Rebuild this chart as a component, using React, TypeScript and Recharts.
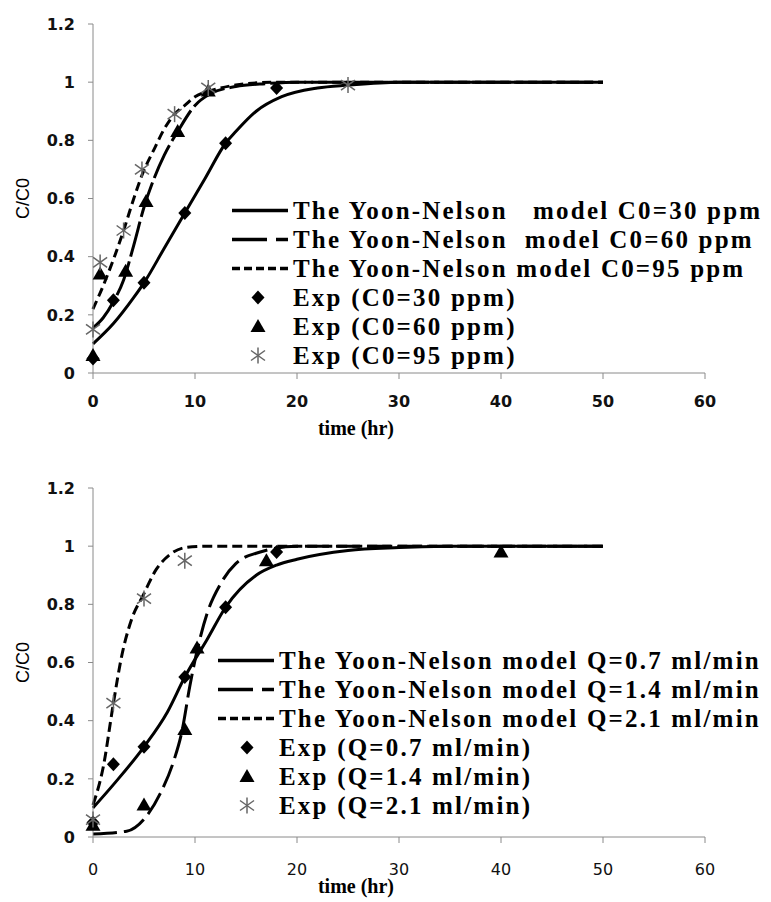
import React from 'react';
import { ComposedChart, Line, Scatter, XAxis, YAxis, Legend, Label } from 'recharts';

// ---------- axis ticks ----------
const X_TICKS = [0, 10, 20, 30, 40, 50, 60];
const Y_TICKS = [0, 0.2, 0.4, 0.6, 0.8, 1, 1.2];

// ---------- top panel: initial concentration ----------
const TOP_MODEL_30: [number, number][] = [[0, 0.10], [2, 0.17], [4, 0.26], [5, 0.31], [7, 0.43], [9, 0.55], [11, 0.67], [13, 0.79], [14, 0.83], [16, 0.90], [18.5, 0.95], [22, 0.98], [25, 0.99], [30, 1], [40, 1], [50, 1]];
const TOP_MODEL_60: [number, number][] = [[0, 0.155], [1, 0.19], [2, 0.245], [3, 0.32], [4, 0.44], [5, 0.57], [6, 0.67], [7, 0.75], [8.3, 0.83], [10, 0.92], [11.5, 0.96], [14, 0.985], [17, 0.995], [20, 1], [30, 1], [50, 1]];
const TOP_MODEL_95: [number, number][] = [[0, 0.22], [1, 0.30], [2, 0.39], [3, 0.49], [4, 0.60], [4.8, 0.68], [6, 0.77], [7, 0.84], [8, 0.89], [9, 0.92], [10, 0.95], [11.5, 0.97], [14, 0.99], [18, 1], [30, 1], [50, 1]];
const TOP_EXP_30: [number, number][] = [[0, 0.05], [2, 0.25], [5, 0.31], [9, 0.55], [13, 0.79], [18, 0.98]];
const TOP_EXP_60: [number, number][] = [[0, 0.06], [0.7, 0.34], [3.2, 0.35], [5.2, 0.59], [8.3, 0.83], [11.3, 0.97]];
const TOP_EXP_95: [number, number][] = [[0, 0.15], [0.7, 0.38], [3, 0.49], [4.8, 0.70], [8, 0.89], [11.3, 0.98], [25, 0.99]];
const TOP_LABELS = [
  'The Yoon-Nelson   model C0=30 ppm',
  'The Yoon-Nelson  model C0=60 ppm',
  'The Yoon-Nelson model C0=95 ppm',
  'Exp (C0=30 ppm)',
  'Exp (C0=60 ppm)',
  'Exp (C0=95 ppm)',
];

// ---------- bottom panel: flow rate ----------
const BOT_MODEL_07: [number, number][] = [[0, 0.10], [2, 0.18], [5, 0.31], [7.3, 0.43], [9, 0.55], [11.2, 0.68], [13, 0.79], [16, 0.90], [18, 0.935], [20, 0.955], [25, 0.985], [30, 0.995], [35, 1], [50, 1]];
const BOT_MODEL_14: [number, number][] = [[0, 0.01], [3.3, 0.02], [5.2, 0.07], [6.6, 0.15], [7.9, 0.26], [8.7, 0.36], [9.5, 0.52], [10.2, 0.64], [11.2, 0.77], [12.5, 0.87], [14, 0.94], [16.4, 0.98], [20, 1], [30, 1], [50, 1]];
const BOT_MODEL_21: [number, number][] = [[0, 0.11], [1, 0.24], [2, 0.46], [2.8, 0.62], [3.8, 0.75], [4.9, 0.83], [6.2, 0.92], [7.5, 0.97], [9, 0.995], [11, 1], [30, 1], [50, 1]];
const BOT_EXP_07: [number, number][] = [[0, 0.05], [2, 0.25], [5, 0.31], [9, 0.55], [13, 0.79], [18, 0.98]];
const BOT_EXP_14: [number, number][] = [[0, 0.04], [5, 0.11], [9, 0.37], [10.2, 0.65], [17, 0.95], [40, 0.98]];
const BOT_EXP_21: [number, number][] = [[0, 0.06], [2, 0.46], [5, 0.82], [9, 0.95]];
const BOT_LABELS = [
  'The Yoon-Nelson model Q=0.7 ml/min',
  'The Yoon-Nelson model Q=1.4 ml/min',
  'The Yoon-Nelson model Q=2.1 ml/min',
  'Exp (Q=0.7 ml/min)',
  'Exp (Q=1.4 ml/min)',
  'Exp (Q=2.1 ml/min)',
];

const toPts = (arr: [number, number][]) => arr.map(([x, y]) => ({ x, y }));

// ---------- markers ----------
const Diamond = ({ cx, cy }: any) => (
  <path d={`M${cx},${cy - 7}L${cx + 6.5},${cy}L${cx},${cy + 7}L${cx - 6.5},${cy}Z`} fill="#000" />
);
const Triangle = ({ cx, cy }: any) => (
  <path d={`M${cx},${cy - 7.5}L${cx + 7.5},${cy + 5.5}L${cx - 7.5},${cy + 5.5}Z`} fill="#000" />
);
const Star = ({ cx, cy }: any) => (
  <g stroke="#666" strokeWidth={1.5} fill="none">
    <line x1={cx} y1={cy - 8} x2={cx} y2={cy + 8} />
    <line x1={cx - 7} y1={cy - 5} x2={cx + 7} y2={cy + 5} />
    <line x1={cx - 7} y1={cy + 5} x2={cx + 7} y2={cy - 5} />
  </g>
);
const MARKERS = [Diamond, Triangle, Star];

type PanelProps = {
  models: [number, number][][];
  exps: [number, number][][];
  labels: string[];
  dashes: string[];
  top: number;
  bottom: number;
  legendLeft: number;
  legendTop: number;
  markerOffset: number;
  titleDy: number;
  xTickWeight: string;
  xTickMargin: number;
};

const LegendBox = ({ labels, dashes, markerOffset }: { labels: string[]; dashes: string[]; markerOffset: number }) => (
  <div
    style={{
      fontFamily: '"Liberation Serif", "Times New Roman", serif',
      fontWeight: 'bold',
      fontSize: 25,
      letterSpacing: '2.2px',
      color: '#000',
      whiteSpace: 'pre',
    }}
  >
    {labels.map((lab, i) => {
      const M = i >= 3 ? MARKERS[i - 3] : null;
      return (
        <div key={i} style={{ display: 'flex', alignItems: 'center', height: 29 }}>
          <svg width={56} height={29} style={{ display: 'block' }}>
            {M ? (
              <M cx={markerOffset} cy={14.5} />
            ) : (
              <line x1={0} y1={14.5} x2={56} y2={14.5} stroke="#000" strokeWidth={3.5} strokeDasharray={dashes[i]} />
            )}
          </svg>
          <span style={{ marginLeft: 5, lineHeight: '29px' }}>{lab}</span>
        </div>
      );
    })}
  </div>
);

const LEGEND_DASHES = ['0', '35 9', '8 4'];

const Panel = (p: PanelProps) => {
  const H = 451;
  return (
    <ComposedChart
      width={771}
      height={H}
      margin={{ top: p.top, right: 66, left: 33, bottom: p.bottom }}
    >
      <XAxis
        type="number"
        dataKey="x"
        domain={[0, 60]}
        ticks={X_TICKS}
        height={60}
        stroke="#8a8a8a"
        tickSize={6}
        tickMargin={p.xTickMargin}
        tick={{ fill: '#111', fontSize: 16, fontFamily: '"DejaVu Sans", sans-serif', fontWeight: p.xTickWeight }}
      >
        <Label
          content={(lp: any) => {
            const vb = lp.viewBox || {};
            return (
              <text
                x={356}
                y={(vb.y || 0) + p.titleDy}
                textAnchor="middle"
                fontFamily='"Liberation Serif", "Times New Roman", serif'
                fontWeight="bold"
                fontSize={20}
                fill="#000"
              >
                time (hr)
              </text>
            );
          }}
        />
      </XAxis>
      <YAxis
        type="number"
        dataKey="y"
        domain={[0, 1.2]}
        ticks={Y_TICKS}
        width={60}
        stroke="#8a8a8a"
        tickSize={5}
        tickMargin={13}
        tick={{ fill: '#111', fontSize: 16, fontFamily: '"DejaVu Sans", sans-serif', fontWeight: 'bold' }}
      >
        <Label
          content={(lp: any) => {
            const vb = lp.viewBox || {};
            const cy = (vb.y || 0) + (vb.height || 0) / 2;
            return (
              <text
                x={29}
                y={cy}
                transform={`rotate(-90 29 ${cy})`}
                textAnchor="middle"
                fontFamily='"Liberation Sans", Arial, sans-serif'
                fontSize={18}
                fill="#000"
              >
                C/C0
              </text>
            );
          }}
        />
      </YAxis>
      <Legend
        layout="vertical"
        align="center"
        verticalAlign="middle"
        wrapperStyle={{ left: p.legendLeft, top: p.legendTop, width: 'auto' }}
        content={() => <LegendBox labels={p.labels} dashes={LEGEND_DASHES} markerOffset={p.markerOffset} />}
      />
      {p.models.map((m, i) => (
        <Line
          key={'m' + i}
          name={p.labels[i]}
          data={toPts(m)}
          dataKey="y"
          type="monotone"
          stroke="#000"
          strokeWidth={3}
          strokeDasharray={p.dashes[i]}
          dot={false}
          activeDot={false}
          isAnimationActive={false}
        />
      ))}
      {p.exps.map((e, i) => {
        const M = MARKERS[i];
        return (
          <Scatter
            key={'e' + i}
            name={p.labels[i + 3]}
            data={toPts(e)}
            dataKey="y"
            fill="#000"
            shape={(sp: any) => <M cx={sp.cx} cy={sp.cy} />}
            isAnimationActive={false}
          />
        );
      })}
    </ComposedChart>
  );
};

export default function App() {
  return (
    <div style={{ position: 'absolute', left: 0, top: 0, width: 771, height: 902, background: '#fff' }}>
      <Panel
        models={[TOP_MODEL_30, TOP_MODEL_60, TOP_MODEL_95]}
        exps={[TOP_EXP_30, TOP_EXP_60, TOP_EXP_95]}
        labels={TOP_LABELS}
        dashes={['0', '36 5', '9 5']}
        top={24}
        bottom={18}
        legendLeft={232}
        legendTop={196}
        markerOffset={26}
        titleDy={62}
        xTickWeight="bold"
        xTickMargin={17}
      />
      <Panel
        models={[BOT_MODEL_07, BOT_MODEL_14, BOT_MODEL_21]}
        exps={[BOT_EXP_07, BOT_EXP_14, BOT_EXP_21]}
        labels={BOT_LABELS}
        dashes={['0', '24 7', '10 5']}
        top={37}
        bottom={5}
        legendLeft={218}
        legendTop={195}
        markerOffset={29}
        titleDy={56}
        xTickWeight="normal"
        xTickMargin={21}
      />
    </div>
  );
}
